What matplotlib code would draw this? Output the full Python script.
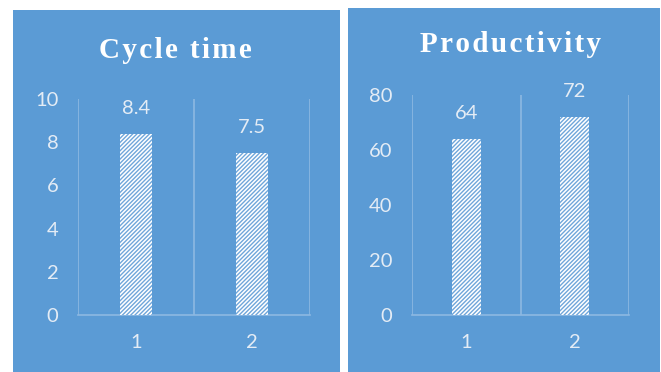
import matplotlib
matplotlib.use("Agg")
import matplotlib.pyplot as plt
from matplotlib.patches import Rectangle

# data
categories = ["1", "2"]
cycle_time = [8.4, 7.5]
cycle_labels = ["8.4", "7.5"]
productivity = [64, 72]
prod_labels = ["64", "72"]
cycle_ticks = [0, 2, 4, 6, 8, 10]
prod_ticks = [0, 20, 40, 60, 80]

BG = "#5B9BD5"
GRID = "#8DB8E2"
TXT = "#E4ECF5"
HATCH = "#6FA6DA"

W, H = 661, 372
plt.rcParams["hatch.linewidth"] = 1.0
fig = plt.figure(figsize=(W / 100, H / 100), dpi=100)
fig.patch.set_facecolor("white")


def px_box(x0, y0, x1, y1):
    # pixel box (top-left origin) -> figure fraction rect
    return [x0 / W, 1 - y1 / H, (x1 - x0) / W, (y1 - y0) / H]


def spaced(s):
    return "\u200a".join(s)


def panel(bg_box, ax_box, title, title_xy, vals, labels, ticks):
    l, b, w, h = px_box(*bg_box)
    fig.patches.append(Rectangle((l, b), w, h, transform=fig.transFigure,
                                 facecolor=BG, edgecolor="none", zorder=-5))
    ax = fig.add_axes(px_box(*ax_box))
    ax.set_facecolor("none")
    ax.set_zorder(2)
    x = list(range(len(vals)))
    bars = ax.bar(x, vals, width=0.27, color="white", edgecolor=HATCH,
                  hatch="////////", linewidth=0, zorder=3)
    for r, t in zip(bars, labels):
        ax.annotate(t, (r.get_x() + r.get_width() / 2, r.get_height()),
                    xytext=(0, 12), textcoords="offset points",
                    ha="center", va="bottom", fontsize=14.5, color=TXT,
                    family="Lato")
    ax.set_xlim(-0.5, len(vals) - 0.5)
    ax.set_ylim(ticks[0], ticks[-1])
    ax.set_yticks(ticks)
    ax.set_xticks(x)
    ax.set_xticklabels(categories)
    # vertical gridlines at category boundaries
    for gx in [i - 0.5 for i in range(len(vals) + 1)]:
        ax.axvline(gx, color=GRID, linewidth=1.2, zorder=1)
    for s in ["top", "right", "left"]:
        ax.spines[s].set_visible(False)
    ax.spines["bottom"].set_color(GRID)
    ax.spines["bottom"].set_linewidth(1.2)
    ax.tick_params(axis="both", length=0, colors=TXT, labelsize=14.5)
    ax.tick_params(axis="y", pad=14)
    ax.tick_params(axis="x", pad=14)
    for lab in ax.get_xticklabels() + ax.get_yticklabels():
        lab.set_family("Lato")
    fig.text(title_xy[0] / W, 1 - title_xy[1] / H, spaced(title),
             ha="center", va="center", fontsize=21, fontweight="bold",
             color="white", family=["Liberation Serif", "DejaVu Serif"])
    return ax


panel((13.5, 10, 340, 372), (78, 99, 310, 315), "Cycle time", (175, 50),
      cycle_time, cycle_labels, cycle_ticks)
panel((347.5, 8, 660, 372), (412, 95, 629, 315), "Productivity", (510, 45),
      productivity, prod_labels, prod_ticks)

fig.savefig("out.png", dpi=100, facecolor="white")
